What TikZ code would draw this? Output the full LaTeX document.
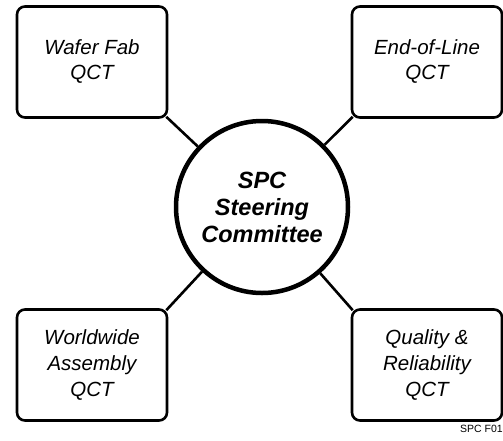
\documentclass[tikz,border=0pt]{standalone}
\usepackage{fontspec}
\setmainfont{Liberation Sans}
\begin{document}
\begin{tikzpicture}[x=1pt,y=-1pt,
  qct/.style={draw, line width=2.6pt, rounded corners=8pt, minimum width=150pt, minimum height=111pt, align=center, font=\itshape\fontsize{20.5}{25}\selectfont, inner sep=0pt},
  qctthree/.style={qct, font=\itshape\fontsize{20.5}{26}\selectfont},
  hub/.style={draw, circle, line width=4.5pt, minimum size=172pt, align=center, font=\bfseries\itshape\fontsize{23.5}{27}\selectfont, inner sep=0pt},
  link/.style={line width=2.6pt}]
\useasboundingbox (0,0) rectangle (503,440);
\node[hub] (c) at (262,207) {SPC\\Steering\\Committee};
\node[qct] (tl) at (92,62) {Wafer Fab\\QCT};
\node[qct] (tr) at (427,62) {End-of-Line\\QCT};
\node[qctthree] (bl) at (92,365) {Worldwide\\Assembly\\QCT};
\node[qctthree] (br) at (427,365) {Quality \&\\Reliability\\QCT};
\draw[link] ([shift={(-2pt,2pt)}]tl.south east) -- (c);
\draw[link] ([shift={(2pt,2pt)}]tr.south west) -- (c);
\draw[link] ([shift={(-2pt,-2pt)}]bl.north east) -- (c);
\draw[link] ([shift={(2pt,-2pt)}]br.north west) -- (c);
\node[anchor=base west, font=\fontsize{10.5}{12}\selectfont, inner sep=0pt] (lbl) at (460,432) {SPC F01};
\end{tikzpicture}
\end{document}
